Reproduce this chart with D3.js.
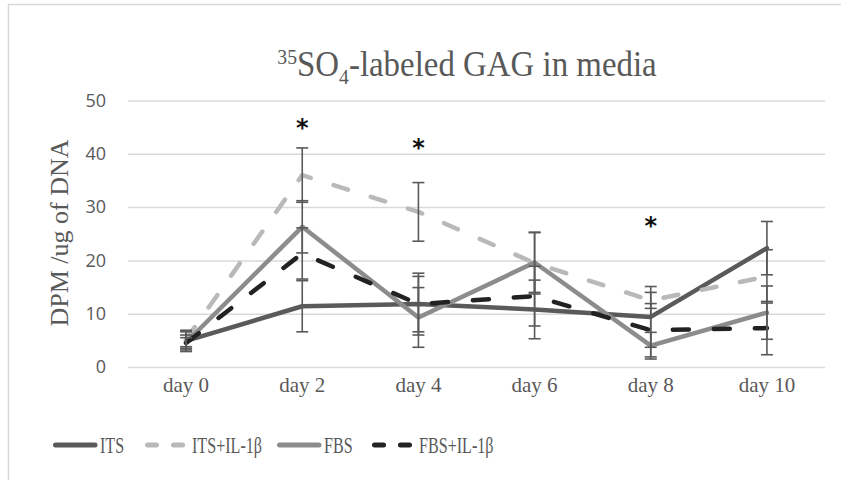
<!DOCTYPE html>
<html>
<head>
<meta charset="utf-8">
<script src="https://cdn.jsdelivr.net/npm/d3@7"></script>
<style>
  body { margin: 0; background: #fff; }
  #canvas svg { display: block; }
</style>
</head>
<body>
<div id="canvas"></div>
<script>
// DATA
const days = ["day 0", "day 2", "day 4", "day 6", "day 8", "day 10"];
const yTicks = [0, 10, 20, 30, 40, 50];

const its      = [4.9, 11.4, 11.8, 10.8, 9.4, 22.3];
const itsErr   = [2.0, 4.8, 5.8, 5.5, 5.7, 5.0];
const itsIl    = [5.2, 36.0, 29.1, 19.5, 12.5, 17.0];
const itsIlErr = [1.4, 5.1, 5.5, 5.8, 1.5, 5.0];
const fbs      = [4.6, 26.3, 9.3, 19.6, 4.0, 10.2];
const fbsErr   = [1.4, 4.9, 5.6, 5.6, 2.5, 5.0];
const fbsIl    = [4.5, 21.3, 11.8, 13.3, 6.9, 7.3];
const fbsIlErr = [1.0, 4.8, 5.2, 5.6, 5.0, 5.0];

const seriesNames = ["ITS", "ITS+IL-1β", "FBS", "FBS+IL-1β"];
const stars = [ { day: "day 2", v: 45.8 }, { day: "day 4", v: 42.1 }, { day: "day 8", v: 27.3 } ];

function drawGraph() {
  // DIMENSIONS
  const width = 841;
  const height = 480;
  const margin = { top: 100.5, right: 16, bottom: 113, left: 128 };
  const plot_width = width - margin.left - margin.right;
  const plot_height = height - margin.top - margin.bottom;

  // CANVAS AND PLOT
  const canvas = d3.select("#canvas")
    .append("svg")
    .attr("width", width)
    .attr("height", height);

  canvas.append("rect")
    .attr("x", 8.5).attr("y", 4.5)
    .attr("width", 900).attr("height", 600)
    .attr("fill", "#fff")
    .attr("stroke", "#d9d9d9")
    .attr("stroke-width", 1.5);

  const plot = canvas.append("g")
    .attr("transform", `translate(${margin.left},${margin.top})`);

  // SERIES
  const series = [
    { name: seriesNames[0], vals: its,   err: itsErr,   color: "#5a5a5a", dash: null },
    { name: seriesNames[1], vals: itsIl, err: itsIlErr, color: "#b9b9b9", dash: "15,24" },
    { name: seriesNames[2], vals: fbs,   err: fbsErr,   color: "#8c8c8c", dash: null },
    { name: seriesNames[3], vals: fbsIl, err: fbsIlErr, color: "#222222", dash: "16,25" }
  ];

  // SCALES
  const scaleX = d3.scaleBand(days, [0, plot_width]).padding(0);
  const scaleY = d3.scaleLinear().domain([0, 50]).range([plot_height, 0]);
  const cx = d => scaleX(d) + scaleX.bandwidth() / 2;

  // GRIDLINES + Y AXIS
  const yAx = d3.axisLeft(scaleY).tickValues(yTicks).tickSize(-plot_width).tickPadding(22);
  const yaxis = plot.append("g").call(yAx);
  yaxis.select(".domain").remove();
  yaxis.selectAll("line").attr("stroke", "#d9d9d9").attr("stroke-width", 1.5);
  yaxis.selectAll("text")
    .attr("fill", "#595959")
    .style("font-family", "'Open Sans', sans-serif")
    .style("font-size", "18px");

  // X AXIS
  const xAx = d3.axisBottom(scaleX).tickSize(0).tickPadding(10);
  const xaxis = plot.append("g")
    .attr("transform", `translate(0,${plot_height})`)
    .call(xAx);
  xaxis.select(".domain").remove();
  xaxis.selectAll("text")
    .attr("fill", "#595959")
    .style("font-family", "'Liberation Serif', serif")
    .style("font-size", "21px");

  // LINES
  const line = d3.line()
    .x((d, i) => cx(days[i]))
    .y(d => scaleY(d));

  plot.selectAll(".series")
    .data(series)
    .join("path")
    .attr("class", "series")
    .attr("d", d => line(d.vals))
    .attr("fill", "none")
    .attr("stroke", d => d.color)
    .attr("stroke-width", 4.5)
    .attr("stroke-linecap", "round")
    .attr("stroke-linejoin", "round")
    .attr("stroke-dasharray", d => d.dash);

  // ERROR BARS
  const errData = series.flatMap(s => s.vals.map((v, i) => ({ day: days[i], v: v, e: s.err[i] })));
  const eb = plot.append("g").attr("stroke", "#595959").attr("stroke-width", 1.6);
  eb.selectAll(".ev").data(errData).join("line")
    .attr("x1", d => cx(d.day)).attr("x2", d => cx(d.day))
    .attr("y1", d => scaleY(d.v - d.e)).attr("y2", d => scaleY(d.v + d.e));
  eb.selectAll(".et").data(errData).join("line")
    .attr("x1", d => cx(d.day) - 6).attr("x2", d => cx(d.day) + 6)
    .attr("y1", d => scaleY(d.v + d.e)).attr("y2", d => scaleY(d.v + d.e));
  eb.selectAll(".eb").data(errData).join("line")
    .attr("x1", d => cx(d.day) - 6).attr("x2", d => cx(d.day) + 6)
    .attr("y1", d => scaleY(d.v - d.e)).attr("y2", d => scaleY(d.v - d.e));

  // STARS
  plot.selectAll(".star").data(stars).join("text")
    .attr("x", d => cx(d.day))
    .attr("y", d => scaleY(d.v) + 13)
    .attr("text-anchor", "middle")
    .style("font-family", "'DejaVu Sans', sans-serif")
    .style("font-size", "24px")
    .style("font-weight", "bold")
    .attr("fill", "#111")
    .text("*");

  // TITLE
  const title = canvas.append("text")
    .attr("transform", "translate(467,76) scale(0.94,1)")
    .attr("text-anchor", "middle")
    .attr("fill", "#595959")
    .style("font-family", "'Liberation Serif', serif")
    .style("font-size", "35px");
  title.append("tspan").attr("font-size", "21px").attr("dy", -12).text("35");
  title.append("tspan").attr("dy", 12).text("SO");
  title.append("tspan").attr("font-size", "21px").attr("dy", 8).text("4");
  title.append("tspan").attr("dy", -8).text("-labeled GAG in media");

  // Y LABEL
  canvas.append("text")
    .attr("transform", "translate(68,233) rotate(-90)")
    .attr("text-anchor", "middle")
    .attr("fill", "#595959")
    .style("font-family", "'Liberation Serif', serif")
    .style("font-size", "26px")
    .text("DPM /ug of DNA");

  // LEGEND
  const legendX = [53, 145, 277, 372];
  const legend = canvas.append("g");
  const items = legend.selectAll("g").data(series).join("g")
    .attr("transform", (d, i) => `translate(${legendX[i]},445)`);
  items.append("line")
    .attr("x1", 2.5).attr("x2", 42)
    .attr("stroke", d => d.color)
    .attr("stroke-width", 5)
    .attr("stroke-linecap", "round")
    .attr("stroke-dasharray", d => d.dash ? "9,17" : null);
  items.append("text")
    .attr("transform", "translate(47,8) scale(0.7,1)")
    .attr("fill", "#595959")
    .style("font-family", "'Liberation Serif', serif")
    .style("font-size", "23px")
    .text(d => d.name);
}

drawGraph();
</script>
</body>
</html>
